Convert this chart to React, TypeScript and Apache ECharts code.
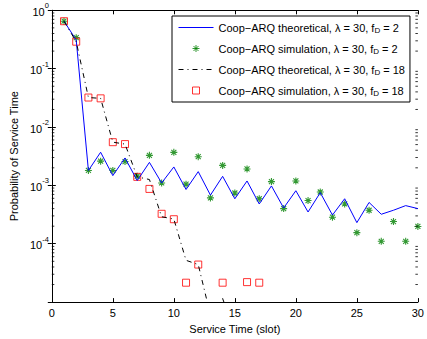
import React, { useEffect, useRef } from "react";
import * as echarts from "echarts";

const slots = [1, 2, 3, 4, 5, 6, 7, 8, 9, 10, 11, 12, 13, 14, 15, 16, 17, 18, 19, 20, 21, 22, 23, 24, 25, 26, 27, 28, 29, 30];
const theoFD2 = [0.65, 0.31, 1.8e-3, 3.7e-3, 1.47e-3, 2.95e-3, 1.21e-3, 2.48e-3, 1.1e-3, 2.07e-3, 8.5e-4, 1.72e-3, 6.8e-4, 1.43e-3, 5.9e-4, 1.19e-3, 4.8e-4, 9.8e-4, 4.1e-4, 8.1e-4, 3.5e-4, 7.5e-4, 3.1e-4, 5.9e-4, 2.3e-4, 5.1e-4, 3.2e-4, 3.75e-4, 4.5e-4, 4.0e-4];
const simFD2 = [0.65, 0.34, 1.8e-3, 2.6e-3, 1.8e-3, 2.56e-3, 1.44e-3, 3.27e-3, 1.1e-3, 3.68e-3, 1.05e-3, 3.1e-3, 6.1e-4, 2.2e-3, 7.4e-4, 1.91e-3, 5.9e-4, 1.16e-3, 4.0e-4, 1.19e-3, 5.5e-4, 7.7e-4, 2.85e-4, 4.8e-4, 1.55e-4, 3.75e-4, 1.1e-4, 2.4e-4, 1.1e-4, 1.98e-4];
const theoFD18Slots = [1, 2, 3, 4, 5, 6, 7, 8, 9, 10, 11, 12, 13, 14, 15];
const theoFD18 = [0.65, 0.29, 0.032, 0.031, 5.5e-3, 5.1e-3, 1.4e-3, 1.26e-3, 2.9e-4, 2.65e-4, 5.2e-5, 4.4e-5, 6e-6, 1.15e-5, 3e-6];
const simFD18Slots = [1, 2, 3, 4, 5, 6, 7, 8, 9, 10, 11, 12, 14, 16, 17];
const simFD18 = [0.65, 0.29, 0.032, 0.031, 5.5e-3, 5.1e-3, 1.4e-3, 8.7e-4, 3.26e-4, 2.63e-4, 2.15e-5, 4.4e-5, 2.15e-5, 2.2e-5, 2.15e-5];
const minorTickValues = [2e-5, 3e-5, 4e-5, 5e-5, 6e-5, 7e-5, 8e-5, 9e-5, 2e-4, 3e-4, 4e-4, 5e-4, 6e-4, 7e-4, 8e-4, 9e-4, 2e-3, 3e-3, 4e-3, 5e-3, 6e-3, 7e-3, 8e-3, 9e-3, 2e-2, 3e-2, 4e-2, 5e-2, 6e-2, 7e-2, 8e-2, 9e-2, 0.2, 0.3, 0.4, 0.5, 0.6, 0.7, 0.8, 0.9];

const names = [
  "Coop−ARQ theoretical, λ = 30, fD = 2",
  "Coop−ARQ simulation, λ = 30, fD = 2",
  "Coop−ARQ theoretical, λ = 30, fD = 18",
  "Coop−ARQ simulation, λ = 30, fD = 18",
];

const FONT = "'Liberation Sans', Arial, Helvetica, sans-serif";
const DASHDOT = [5, 4, 1, 4];

export default function App() {
  const ref = useRef<HTMLDivElement>(null);
  useEffect(() => {
    if (!ref.current) return;
    const chart = echarts.init(ref.current, undefined, { renderer: "svg" });
    const pair = (xs: number[], ys: number[]) => xs.map((x, i) => [x, ys[i]]);
    const star = "path://M0 0M14 14M7 3.5L7 10.5M3.5 7L10.5 7M4.5 4.5L9.5 9.5M4.5 9.5L9.5 4.5";
    const starSym = "path://M7 0L7 14M0 7L14 7M2 2L12 12M2 12L12 2";
    const sq = "path://M0 0M14 14M3.5 3.5L10.5 3.5L10.5 10.5L3.5 10.5Z";
    const lineIcon = "path://M0 0M35 14M0 7L35 7";
    const option: any = {
      animation: false,
      backgroundColor: "#fff",
      textStyle: { fontFamily: FONT },
      grid: { left: 48.5, right: 6, top: 10.3, bottom: 35.7 },
      legend: {
        orient: "vertical",
        left: 172,
        top: 16,
        itemWidth: 35,
        itemHeight: 14,
        itemGap: 6,
        padding: [4, 5, 4, 6],
        backgroundColor: "#fff",
        borderColor: "#000",
        borderWidth: 1,
        borderRadius: 0,
        selectedMode: false,
        data: [
          { name: names[0], icon: lineIcon, itemStyle: { color: "rgba(0,0,0,0)", borderColor: "#0000ff", borderWidth: 1 } },
          { name: names[1], icon: star, itemStyle: { color: "#008000", borderColor: "#008000", borderWidth: 1 } },
          { name: names[2], icon: lineIcon, itemStyle: { color: "rgba(0,0,0,0)", borderColor: "#000", borderWidth: 1, borderType: DASHDOT } },
          { name: names[3], icon: sq, itemStyle: { color: "rgba(0,0,0,0)", borderColor: "#ff0000", borderWidth: 1 } },
        ],
        formatter: (name: string) => {
          const [a, b] = name.split("fD");
          return `{n|${a}f}{s|D}{n|${b}}`;
        },
        textStyle: {
          fontFamily: FONT,
          fontSize: 11,
          color: "#000",
          rich: {
            n: { fontSize: 11, fontFamily: FONT, color: "#000" },
            s: { fontSize: 8, fontFamily: FONT, color: "#000", padding: [5, 0, 0, 0] },
          },
        },
      },
      xAxis: [
        {
          type: "value",
          min: 0,
          max: 30,
          interval: 5,
          name: "Service Time (slot)",
          nameLocation: "middle",
          nameGap: 18,
          nameTextStyle: { fontFamily: FONT, fontSize: 11, color: "#000" },
          axisLine: { lineStyle: { color: "#000", width: 1 } },
          axisTick: { inside: true, length: 4, lineStyle: { color: "#000" } },
          axisLabel: { margin: 5, fontFamily: FONT, fontSize: 11, color: "#000" },
          splitLine: { show: false },
        },
        {
          type: "value",
          position: "top",
          min: 0,
          max: 30,
          interval: 5,
          axisLine: { lineStyle: { color: "#000", width: 1 } },
          axisTick: { inside: true, length: 4, lineStyle: { color: "#000" } },
          axisLabel: { show: false },
          splitLine: { show: false },
        },
      ],
      yAxis: [
        {
          type: "log",
          logBase: 10,
          min: 1e-5,
          max: 1,
          name: "Probability of Service Time",
          nameLocation: "middle",
          nameRotate: 90,
          nameGap: 30,
          nameTextStyle: { fontFamily: FONT, fontSize: 11, color: "#000" },
          axisLine: { lineStyle: { color: "#000", width: 1 } },
          axisTick: { inside: true, length: 4, lineStyle: { color: "#000" } },
          axisLabel: {
            margin: 3,
            formatter: (v: number) => {
              const e = Math.round(Math.log10(v));
              if (e <= -5) return "";
              return `{b|10}{s|${e}}`;
            },
            rich: {
              b: { fontSize: 11, fontFamily: FONT, color: "#000", padding: [3, 0, 0, 0] },
              s: { fontSize: 7.5, fontFamily: FONT, color: "#000", padding: [0, 0, 9, 0] },
            },
          },
          splitLine: { show: false },
        },
        {
          type: "log",
          logBase: 10,
          min: 1e-5,
          max: 1,
          position: "right",
          axisLine: { lineStyle: { color: "#000", width: 1 } },
          axisTick: { inside: true, length: 4, lineStyle: { color: "#000" } },
          axisLabel: { show: false },
          splitLine: { show: false },
        },
      ],
      series: [
        {
          name: names[0],
          type: "line",
          data: pair(slots, theoFD2),
          symbol: "none",
          lineStyle: { color: "#0000ff", width: 1 },
          itemStyle: { color: "#0000ff" },
        },
        {
          name: names[1],
          type: "scatter",
          data: pair(slots, simFD2),
          symbol: starSym,
          symbolSize: 7,
          itemStyle: { color: "#008000", borderColor: "#008000", borderWidth: 1.1 },
        },
        {
          name: names[2],
          type: "line",
          data: pair(theoFD18Slots, theoFD18),
          symbol: "none",
          lineStyle: { color: "#000", width: 1, type: DASHDOT },
          itemStyle: { color: "#000" },
        },
        {
          name: names[3],
          type: "scatter",
          data: pair(simFD18Slots, simFD18),
          symbol: "rect",
          symbolSize: 7,
          itemStyle: { color: "rgba(0,0,0,0)", borderColor: "#ff0000", borderWidth: 1 },
        },
        {
          name: "minorLeft",
          type: "scatter",
          silent: true,
          data: minorTickValues.map((v) => [0, v]),
          symbol: "rect",
          symbolSize: [2.5, 1],
          symbolOffset: [1.25, 0],
          itemStyle: { color: "#000" },
        },
        {
          name: "minorRight",
          type: "scatter",
          silent: true,
          data: minorTickValues.map((v) => [30, v]),
          symbol: "rect",
          symbolSize: [2.5, 1],
          symbolOffset: [-1.25, 0],
          itemStyle: { color: "#000" },
        },
      ],
    };
    chart.setOption(option);
    return () => chart.dispose();
  }, []);
  return (
    <div
      ref={ref}
      style={{ position: "fixed", left: 0, top: 0, width: 427, height: 339, background: "#fff" }}
    />
  );
}
